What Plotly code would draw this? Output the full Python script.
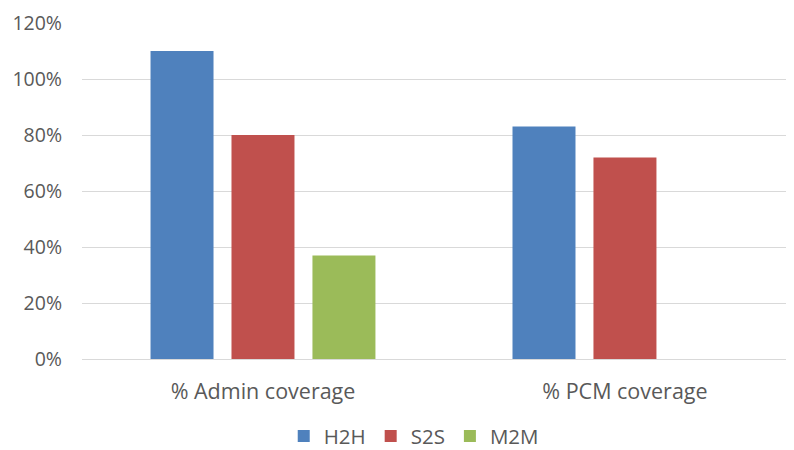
import plotly.graph_objects as go

categories = ["% Admin coverage", "% PCM coverage"]
h2h = [1.10, 0.83]
s2s = [0.80, 0.72]
m2m = [0.37, None]
series_names = ["H2H", "S2S", "M2M"]
colors = ["#4F81BD", "#C0504D", "#9BBB59"]

fig = go.Figure()
for name, vals, c in zip(series_names, [h2h, s2s, m2m], colors):
    fig.add_trace(go.Bar(name=name, x=categories, y=vals, marker=dict(color=c, line=dict(width=0))))

fig.update_layout(
    width=794, height=450,
    margin=dict(l=74, r=8, t=15, b=99),
    paper_bgcolor="white", plot_bgcolor="white",
    barmode="group", bargap=0.329, bargroupgap=0.222,
    font=dict(family="Open Sans, sans-serif", size=20, color="#595959"),
    yaxis=dict(range=[0, 1.2], dtick=0.2, tickformat=".0%", gridcolor="#D9D9D9",
               gridwidth=1, zeroline=False, showline=False, ticks="", ticklabelstandoff=19,
               tickfont=dict(size=19.5), automargin=False),
    xaxis=dict(range=[-0.5, 1.467], showline=True, linecolor="#D9D9D9", ticks="",
               showgrid=False, tickfont=dict(size=21.5), ticklabelstandoff=13,
               automargin=False),
    legend=dict(orientation="h", xref="container", x=0.511, xanchor="center",
                yref="container", y=0.004, yanchor="bottom",
                font=dict(size=20.5, color="#595959"), itemwidth=30, traceorder="normal"),
    showlegend=True,
)
fig.write_html("out.html")
